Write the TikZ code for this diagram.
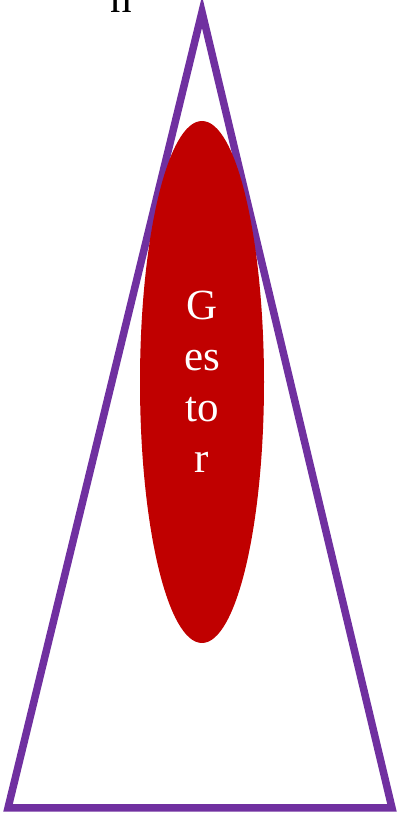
\documentclass[tikz,border=0pt]{standalone}
\usepackage{fontspec}
\setmainfont{Liberation Serif}
\definecolor{violet}{HTML}{7030A0}
\definecolor{darkred}{HTML}{C00000}
\begin{document}
\begin{tikzpicture}[x=1pt,y=1pt]
        \useasboundingbox (0,0) rectangle (398,815);
        \draw[violet,line width=7.5pt,line join=miter] (202,803)--(8,7)--(392,7)--cycle;
        \fill[darkred] (202,433) ellipse (62 and 261);
        \node[white,font=\fontsize{43}{51}\selectfont,align=center] (gestor) at (202,433) {G\\es\\to\\r};
        \node[anchor=base,font=\fontsize{43}{48}\selectfont,inner sep=0pt] (top) at (121,802) {n};
    \end{tikzpicture}
\end{document}
